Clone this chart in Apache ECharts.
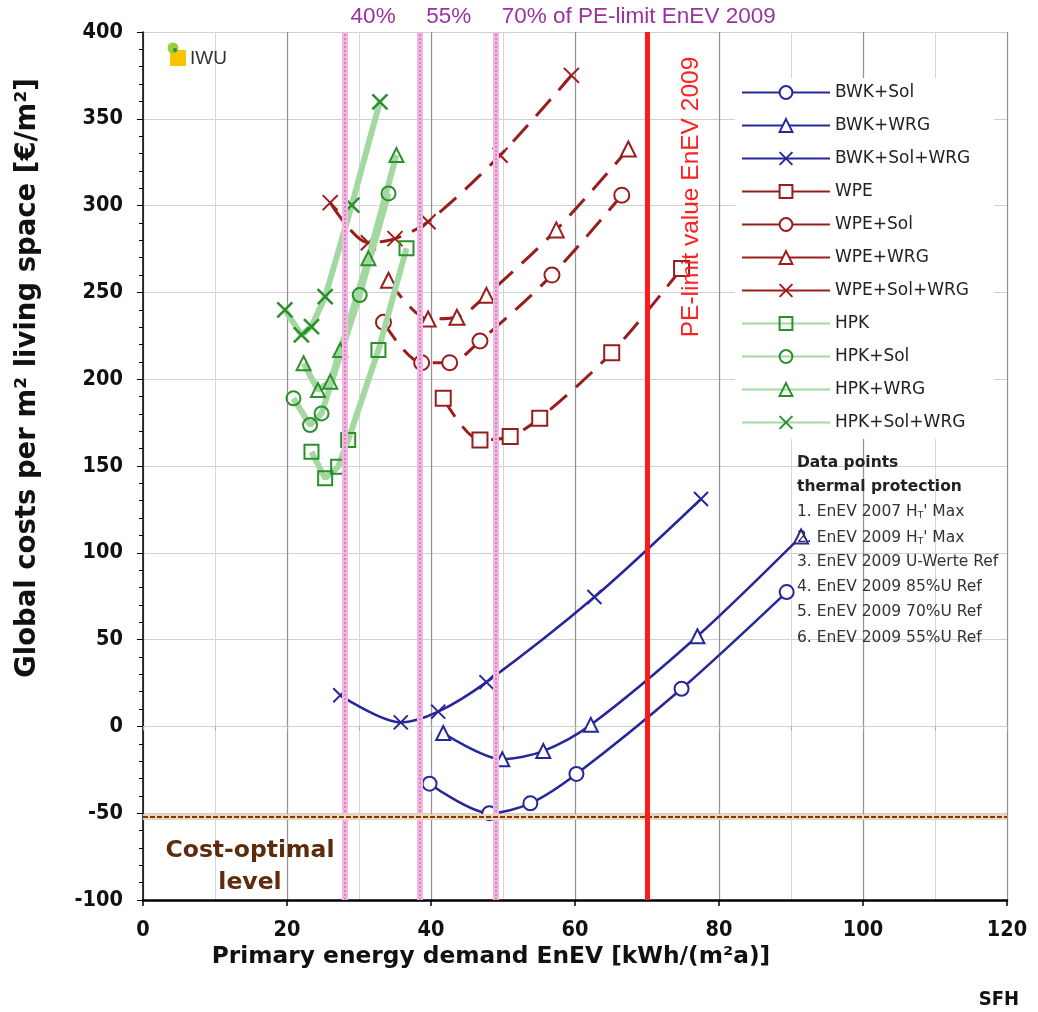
<!DOCTYPE html>
<html><head><meta charset="utf-8">
<script src="https://cdn.jsdelivr.net/npm/echarts@6/dist/echarts.min.js"></script>
<style>html,body{margin:0;padding:0;background:#fff}#c{width:1038px;height:1012px}</style>
</head><body><div id="c"></div>
<script>
// ---- data (x: primary energy demand, y: global costs) ----
const bwkSol    = [[39.8,-33],[48.1,-50],[53.8,-44.3],[60.2,-27.4],[74.8,21.7],[89.4,77.4]];
const bwkWrg    = [[41.7,-3.8],[49.9,-18.9],[55.6,-14.2],[62.2,0.9],[77.0,51.9],[91.4,109.4]];
const bwkSolWrg = [[27.4,17.9],[35.8,2.3],[41.0,8.5],[47.7,25.5],[62.7,74.5],[77.5,131]];
const wpe       = [[41.7,189],[46.8,165],[51.0,167],[55.1,177.5],[65.1,215.3],[74.8,263.8]];
const wpeSol    = [[33.4,232.8],[38.7,209.5],[42.6,209.5],[46.8,222],[56.8,260],[66.5,306]];
const wpeWrg    = [[34.1,257],[39.6,234.7],[43.6,235.7],[47.7,248.3],[57.4,286],[67.4,332.6]];
const wpeSolWrg = [[26,301.7],[31.3,278.6],[35,281],[39.6,290.7],[49.6,329],[59.5,375]];
const hpk       = [[23.4,158.2],[25.3,142.9],[27.1,149.6],[28.5,165],[32.7,216.8],[36.6,275.4]];
const hpkSol    = [[20.9,189],[23.2,173.6],[24.8,180.3],[30.1,248.5],[34.1,307]];
const hpkWrg    = [[22.3,209.2],[24.3,193.8],[26.0,198.6],[27.4,216.8],[31.3,269.6],[35.2,329.1]];
const hpkSolWrg = [[19.7,239.9],[22.0,225.5],[23.4,230.3],[25.3,247.5],[29.0,300.3],[32.9,359.8]];

const peLimit = 70;
const peShares = [0.40, 0.55, 0.70];
const shareLabels = ['40%', '55%', '70% of PE-limit EnEV 2009'];
const costOptimal = -52;

const xMin = 0, xMax = 120, xInterval = 20;
const yMin = -100, yMax = 400, yInterval = 50;

const dataPointLines = [
  'Data points', 'thermal protection',
  '1. EnEV 2007 H{s|T}\' Max', '2. EnEV 2009 H{s|T}\' Max',
  '3. EnEV 2009 U-Werte Ref', '4. EnEV 2009 85%U Ref',
  '5. EnEV 2009 70%U Ref', '6. EnEV 2009 55%U Ref'
];

// ---- styles ----
const BLUE = '#27279a', RED = '#9a1c1c', GREEN_M = '#2b8f2b', GREEN_L = '#a3d9a0';
const XSYM = 'path://M0,0L10,10M10,0L0,10';

function mk(name, data, fam, sym) {
  const s = { name, type: 'line', data, symbol: sym, showSymbol: true, z: 3 };
  if (fam === 'b') {
    s.smooth = 0.3;
    s.symbolSize = 14;
    s.lineStyle = { color: BLUE, width: 2.5 };
    s.itemStyle = { color: '#fff', borderColor: BLUE, borderWidth: 2 };
  } else if (fam === 'r') {
    s.smooth = 0.3;
    s.symbolSize = 15;
    s.lineStyle = { color: RED, width: 3, type: [22, 12] };
    s.itemStyle = { color: '#fff', borderColor: RED, borderWidth: 2 };
  } else {
    s.symbolSize = sym === XSYM ? 15 : 14;
    s.lineStyle = { color: GREEN_L, width: 6 };
    s.itemStyle = { color: 'rgba(255,255,255,0)', borderColor: GREEN_M, borderWidth: sym === XSYM ? 2.5 : 2 };
    s.z = 4;
  }
  return s;
}

const names = ['BWK+Sol','BWK+WRG','BWK+Sol+WRG','WPE','WPE+Sol','WPE+WRG','WPE+Sol+WRG','HPK','HPK+Sol','HPK+WRG','HPK+Sol+WRG'];

const pinkX = peShares.map(s => +(s * peLimit).toFixed(2));

const helperBack = {
  name: 'back', type: 'line', data: [], z: 2, silent: true,
  markLine: {
    silent: true, symbol: 'none', label: { show: false }, animation: false,
    data: [
      ...pinkX.map(v => ({ xAxis: v, lineStyle: { color: '#f0b8e0', width: 6, type: 'solid' } })),
      ...pinkX.map(v => ({ xAxis: v, lineStyle: { color: '#d683c2', width: 2, type: [2, 2] } })),
      { yAxis: costOptimal, lineStyle: { color: '#efd6b8', width: 6, type: 'solid' } },
      { yAxis: costOptimal, lineStyle: { color: '#7a3a12', width: 2, type: [5, 2] } }
    ]
  }
};
const helperFront = {
  name: 'front', type: 'line', data: [], z: 6, silent: true,
  markLine: {
    silent: true, symbol: 'none', label: { show: false }, animation: false,
    data: [{ xAxis: peLimit, lineStyle: { color: '#ff1a1a', width: 5, type: 'solid' } }]
  }
};

const series = [
  helperBack,
  mk(names[0], bwkSol, 'b', 'circle'),
  mk(names[1], bwkWrg, 'b', 'triangle'),
  mk(names[2], bwkSolWrg, 'b', XSYM),
  mk(names[3], wpe, 'r', 'rect'),
  mk(names[4], wpeSol, 'r', 'circle'),
  mk(names[5], wpeWrg, 'r', 'triangle'),
  mk(names[6], wpeSolWrg, 'r', XSYM),
  mk(names[7], hpk, 'g', 'rect'),
  mk(names[8], hpkSol, 'g', 'circle'),
  mk(names[9], hpkWrg, 'g', 'triangle'),
  mk(names[10], hpkSolWrg, 'g', XSYM),
  helperFront
];

const tickFont = { fontFamily: 'DejaVu Sans Condensed', fontWeight: 'bold', fontSize: 21.5, color: '#111' };

const chart = echarts.init(document.getElementById('c'), null, { renderer: 'canvas' });
chart.setOption({
  animation: false,
  backgroundColor: '#fff',
  grid: { left: 143, right: 31, top: 32, bottom: 112, containLabel: false },
  xAxis: [{
    type: 'value', min: xMin, max: xMax, interval: xInterval, position: 'bottom',
    axisLine: { show: true, onZero: false, lineStyle: { color: '#000', width: 2.5 } },
    axisTick: { show: true, length: 6, lineStyle: { color: '#000', width: 1.5 } },
    axisLabel: Object.assign({ margin: 19 }, tickFont),
    splitLine: { show: true, lineStyle: { color: '#959595', width: 1.3 } },
    minorTick: { show: false, splitNumber: 2 },
    minorSplitLine: { show: true, lineStyle: { color: '#d6d6d6', width: 1 } }
  }, {
    type: 'value', min: xMin, max: xMax, interval: 10, position: 'top',
    axisLine: { show: true, lineStyle: { color: '#cfcfcf', width: 1 } },
    axisTick: { show: true, inside: true, length: 4, lineStyle: { color: '#aaa' } },
    axisLabel: { show: false }, splitLine: { show: false }
  }],
  yAxis: {
    type: 'value', min: yMin, max: yMax, interval: yInterval,
    axisLine: { show: true, onZero: false, lineStyle: { color: '#000', width: 1.5 } },
    axisTick: { show: true, length: 6, lineStyle: { color: '#000' } },
    minorTick: { show: true, splitNumber: 5, length: 4, lineStyle: { color: '#000' } },
    axisLabel: Object.assign({ margin: 20 }, tickFont),
    splitLine: { show: true, lineStyle: { color: '#d0d0d0', width: 1 } }
  },
  legend: {
    orient: 'vertical', left: 735, top: 78, selectedMode: false,
    itemWidth: 88, itemHeight: 16, itemGap: 16,
    backgroundColor: '#fff', padding: [6, 24, 8, 6],
    textStyle: { fontFamily: 'DejaVu Sans', fontSize: 17, color: '#222', lineHeight: 16 },
    data: names.map((n, i) => i >= 3 && i <= 6 ? { name: n, lineStyle: { type: 'solid' } } : { name: n })
  },
  series
});

// ---- annotations positioned through the axes ----
const px = v => chart.convertToPixel({ xAxisIndex: 0 }, v);
const py = v => chart.convertToPixel({ yAxisIndex: 0 }, v);
const g = [];
pinkX.forEach((v, i) => g.push({
  type: 'text', left: px(v) + 6, top: 5, z: 10,
  style: { text: shareLabels[i], fontFamily: 'Liberation Sans', fontSize: 22.5, fill: '#9a32a4' }
}));
g.push({
  type: 'text', x: px(peLimit) + 44, y: 197, rotation: Math.PI / 2, z: 10,
  style: { text: 'PE-limit value EnEV 2009', fontFamily: 'Liberation Sans', fontSize: 24.5, fill: '#ff2020', align: 'center', verticalAlign: 'middle' }
});
g.push({
  type: 'text', x: 250, y: py(costOptimal) + 18, z: 10,
  style: { text: 'Cost-optimal\nlevel', fontFamily: 'DejaVu Sans', fontWeight: 'bold', fontSize: 23.5, lineHeight: 32, fill: '#5c2c0c', align: 'center', verticalAlign: 'top' }
});
// axis titles
g.push({
  type: 'text', x: 491, y: 957, z: 10,
  style: { text: 'Primary energy demand EnEV [kWh/(m²a)]', fontFamily: 'DejaVu Sans', fontWeight: 'bold', fontSize: 23.3, fill: '#111', align: 'center', verticalAlign: 'middle' }
});
g.push({
  type: 'text', x: 28, y: 378, rotation: Math.PI / 2, z: 10,
  style: { text: 'Global costs per m² living space [€/m²]', fontFamily: 'DejaVu Sans', fontWeight: 'bold', fontSize: 27.5, fill: '#111', align: 'center', verticalAlign: 'middle' }
});
g.push({
  type: 'text', x: 999, y: 1000, z: 10,
  style: { text: 'SFH', fontFamily: 'DejaVu Sans Condensed', fontWeight: 'bold', fontSize: 20, fill: '#111', align: 'center', verticalAlign: 'middle' }
});
// data points box
const dpY = [463, 487, 512, 538, 562, 587, 612, 638];
dataPointLines.forEach((t, i) => g.push({
  type: 'text', x: 797, y: dpY[i], z: 10,
  style: {
    text: t, fontFamily: 'DejaVu Sans', fontSize: 15.5, fontWeight: i < 2 ? 'bold' : 'normal',
    fill: i < 2 ? '#222' : '#333', verticalAlign: 'middle',
    rich: { s: { fontSize: 9, fontFamily: 'DejaVu Sans', fill: '#333', padding: [7, 0, 0, 0] } }
  }
}));
// IWU logo
g.push({ type: 'rect', shape: { x: 170, y: 50, width: 16, height: 16 }, style: { fill: '#f7c600' }, z: 10 });
g.push({ type: 'circle', shape: { cx: 173, cy: 48, r: 5.5 }, style: { fill: '#9acd3c' }, z: 11 });
g.push({ type: 'circle', shape: { cx: 175, cy: 50, r: 2 }, style: { fill: '#3a8a2a' }, z: 12 });
g.push({
  type: 'text', x: 190, y: 59, z: 10,
  style: { text: 'IWU', fontFamily: 'Liberation Sans', fontSize: 19, fill: '#333', verticalAlign: 'middle' }
});
chart.setOption({ graphic: g });
</script>
</body></html>
